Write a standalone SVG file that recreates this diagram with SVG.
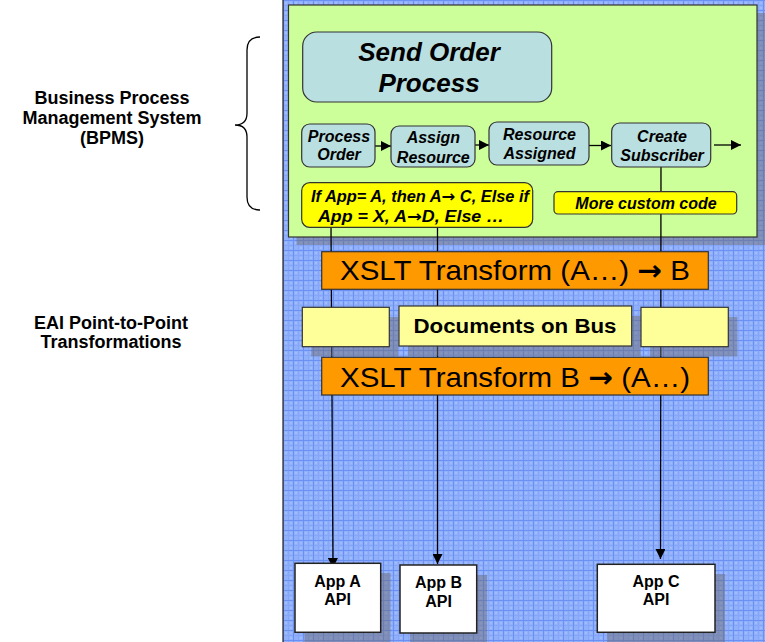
<svg xmlns="http://www.w3.org/2000/svg" width="765" height="642" viewBox="0 0 765 642">
  <defs>
    <style>
      text { font-family: "Liberation Sans", Arial, sans-serif; fill: #000; }
      .lbl { font-size: 18px; font-weight: bold; text-anchor: middle; }
      .step { fill: #b9dfe1; stroke: #333; stroke-width: 1.2; }
      .stepTxt { font-size: 16px; font-weight: bold; font-style: italic; text-anchor: middle; }
      .note { fill: #ffff00; stroke: #333; stroke-width: 1.2; }
      .xslt { fill: #ff9900; stroke: #333; stroke-width: 1.2; }
      .xsltTxt { font-size: 28px; text-anchor: middle; }
      .arr { font-family: "DejaVu Sans", sans-serif; font-weight: bold; font-style: normal; }
      .doc { fill: #ffff99; stroke: #333; stroke-width: 1.2; }
      .app { fill: #ffffff; stroke: #222; stroke-width: 1.5; }
      .appTxt { font-size: 16px; font-weight: bold; text-anchor: middle; }
      .shadow { fill: #6e6e78; opacity: 0.5; }
      .wire { stroke: #000; stroke-width: 1.3; fill: none; }
    </style>
    <pattern id="grid" width="10" height="10" patternUnits="userSpaceOnUse" x="283" y="0">
      <rect width="10" height="10" fill="#90b0fb"/>
      <rect x="5" y="0" width="0.8" height="10" fill="#83a5f8"/>
      <rect x="0" y="5" width="10" height="0.8" fill="#83a5f8"/>
      <rect x="0" y="0" width="1" height="10" fill="#6a90f3"/>
      <rect x="0" y="0" width="10" height="1" fill="#6a90f3"/>
      <rect x="2.5" y="2.5" width="1" height="1" fill="#d4e0ff"/>
      <rect x="7.5" y="7.5" width="1" height="1" fill="#d4e0ff"/>
      <rect x="7.5" y="2.5" width="1" height="1" fill="#bcd0ff"/>
    </pattern>
    <marker id="arrow" markerUnits="userSpaceOnUse" markerWidth="11" markerHeight="10" refX="10" refY="5" orient="auto">
      <path d="M0,0 L10,5 L0,10 z" fill="#000"/>
    </marker>
  </defs>

  <rect width="765" height="642" fill="#ffffff"/>

  <!-- side labels -->
  <g id="label-bpms">
    <text class="lbl" x="112" y="104">Business Process</text>
    <text class="lbl" x="112" y="124">Management System</text>
    <text class="lbl" x="112" y="144">(BPMS)</text>
    <path class="wire" d="M260,37 Q247,37 247,50 L247,113 Q247,125 235,125 Q247,125 247,137 L247,197 Q247,210 260,210"/>
  </g>
  <g id="label-eai">
    <text class="lbl" x="111" y="329">EAI Point-to-Point</text>
    <text class="lbl" x="111" y="348">Transformations</text>
  </g>

  <!-- integration layer backdrop -->
  <g id="bus-area">
    <rect x="283" y="-2" width="484" height="646" fill="url(#grid)" stroke="#222" stroke-width="1.2"/>
  </g>

  <!-- BPMS container -->
  <g id="bpms">
    <rect class="shadow" x="296.5" y="13" width="468.5" height="232"/>
    <rect x="288.5" y="5" width="468.5" height="232" fill="#ccff99" stroke="#333" stroke-width="1.2"/>
  </g>

  <!-- connectors -->
  <g id="connectors">
    <line class="wire" x1="375" y1="146" x2="391" y2="146" marker-end="url(#arrow)"/>
    <line class="wire" x1="475" y1="145" x2="489" y2="145" marker-end="url(#arrow)"/>
    <line class="wire" x1="589" y1="145.5" x2="611" y2="145.5" marker-end="url(#arrow)"/>
    <line class="wire" x1="714" y1="145" x2="741" y2="145" marker-end="url(#arrow)"/>
    <line class="wire" x1="331" y1="227" x2="333" y2="568" marker-end="url(#arrow)"/>
    <line class="wire" x1="437.5" y1="227" x2="437.5" y2="564" marker-end="url(#arrow)"/>
    <line class="wire" x1="661" y1="167" x2="660.5" y2="559" marker-end="url(#arrow)"/>
  </g>

  <!-- process title -->
  <g id="send-order-process">
    <rect class="step" x="302.7" y="32" width="249" height="70" rx="14"/>
    <text x="429" y="61" font-size="26" font-weight="bold" font-style="italic" text-anchor="middle">Send Order</text>
    <text x="429" y="92" font-size="26" font-weight="bold" font-style="italic" text-anchor="middle">Process</text>
  </g>

  <!-- process steps -->
  <g id="step-process-order">
    <rect class="step" x="301.7" y="124" width="73.3" height="43" rx="8"/>
    <text class="stepTxt" x="339" y="142">Process</text>
    <text class="stepTxt" x="339" y="160">Order</text>
  </g>
  <g id="step-assign-resource">
    <rect class="step" x="391" y="126" width="84" height="41" rx="8"/>
    <text class="stepTxt" x="433.3" y="143">Assign</text>
    <text class="stepTxt" x="433.3" y="162.5">Resource</text>
  </g>
  <g id="step-resource-assigned">
    <rect class="step" x="489" y="122" width="100" height="43" rx="8"/>
    <text class="stepTxt" x="539.5" y="140">Resource</text>
    <text class="stepTxt" x="539.5" y="159.3">Assigned</text>
  </g>
  <g id="step-create-subscriber">
    <rect class="step" x="611.7" y="123" width="99" height="44" rx="8"/>
    <text class="stepTxt" x="662" y="141.7">Create</text>
    <text class="stepTxt" x="662" y="160.7">Subscriber</text>
  </g>

  <!-- custom code notes -->
  <g id="note-routing">
    <rect class="note" x="301.7" y="182.7" width="231" height="44.6" rx="8"/>
    <text class="stepTxt" x="420" y="201.7" textLength="218" lengthAdjust="spacingAndGlyphs">If App= A, then A<tspan class="arr">→</tspan> C, Else if</text>
    <text class="stepTxt" x="411" y="221.7" textLength="186" lengthAdjust="spacingAndGlyphs">App = X, A<tspan class="arr">→</tspan>D, Else …</text>
  </g>
  <g id="note-custom">
    <rect class="note" x="554" y="191.7" width="182.7" height="22.3" rx="4"/>
    <text class="stepTxt" x="646" y="208.5">More custom code</text>
  </g>

  <!-- transformations -->
  <g id="xslt-in">
    <rect class="xslt" x="321.7" y="251.7" width="386.6" height="37.6"/>
    <text class="xsltTxt" x="515" y="280" textLength="350" lengthAdjust="spacingAndGlyphs">XSLT Transform (A…) <tspan class="arr">→</tspan> B</text>
  </g>
  <g id="docs-left">
    <rect class="shadow" x="311.3" y="317" width="87" height="39.4"/>
    <rect class="doc" x="302.3" y="307.3" width="87" height="39.4"/>
  </g>
  <g id="docs-bus">
    <rect class="shadow" x="408" y="316" width="232.7" height="40"/>
    <rect class="doc" x="399" y="306" width="232.7" height="40"/>
    <text x="515" y="332.7" font-size="20" font-weight="bold" text-anchor="middle" textLength="203" lengthAdjust="spacingAndGlyphs">Documents on Bus</text>
  </g>
  <g id="docs-right">
    <rect class="shadow" x="650" y="317" width="87.3" height="39.4"/>
    <rect class="doc" x="641" y="307.3" width="87.3" height="39.4"/>
  </g>
  <g id="xslt-out">
    <rect class="xslt" x="321.7" y="357.3" width="386.6" height="37.7"/>
    <text class="xsltTxt" x="515" y="386.7" textLength="350" lengthAdjust="spacingAndGlyphs">XSLT Transform B <tspan class="arr">→</tspan> (A…)</text>
  </g>

  <!-- application endpoints -->
  <g id="app-a">
    <rect class="shadow" x="304.5" y="573" width="86" height="69"/>
    <rect class="app" x="295" y="563.3" width="85.7" height="69"/>
    <text class="appTxt" x="337.5" y="586.7">App A</text>
    <text class="appTxt" x="337.5" y="605">API</text>
  </g>
  <g id="app-b">
    <rect class="shadow" x="410" y="575" width="77" height="67"/>
    <rect class="app" x="400" y="565" width="76.7" height="68"/>
    <text class="appTxt" x="438.5" y="588.3">App B</text>
    <text class="appTxt" x="438.5" y="606.7">API</text>
  </g>
  <g id="app-c">
    <rect class="shadow" x="607" y="574" width="118" height="68"/>
    <rect class="app" x="597.3" y="564.3" width="117.7" height="68"/>
    <text class="appTxt" x="656" y="587.3">App C</text>
    <text class="appTxt" x="656" y="605">API</text>
  </g>
</svg>
